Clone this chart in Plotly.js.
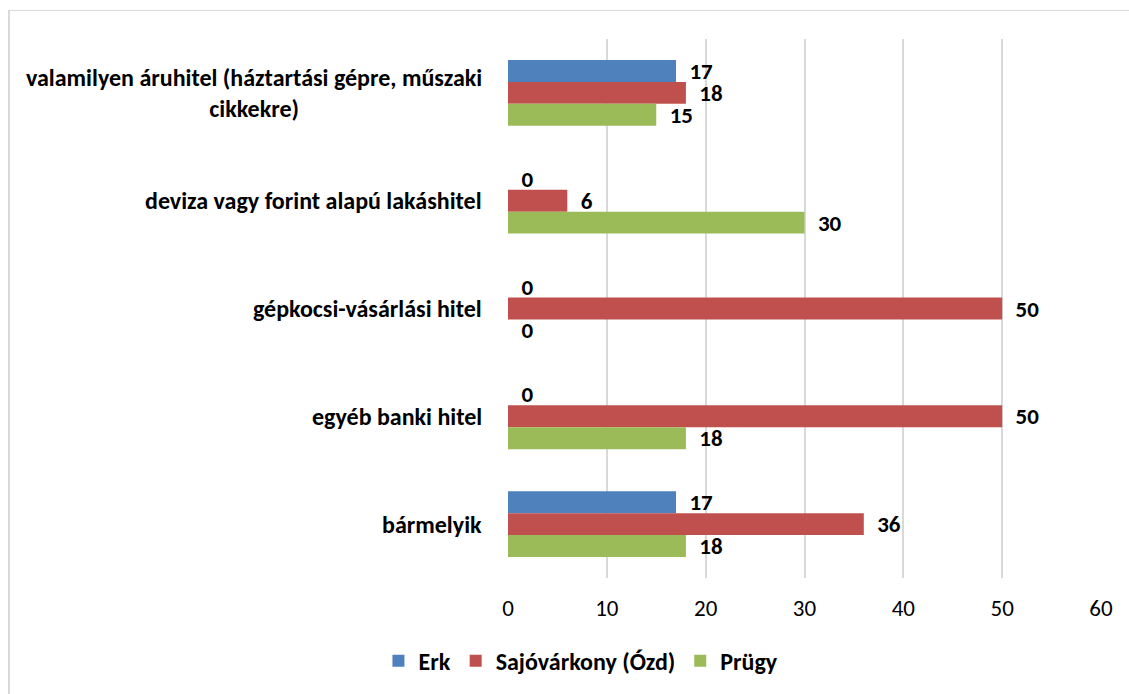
<!DOCTYPE html>
<html>
<head>
<meta charset="utf-8">
<script src="https://cdn.plot.ly/plotly-3.0.1.min.js"></script>
<style>
  html, body { margin: 0; padding: 0; background: #fff; }
  #wrap { position: relative; width: 1129px; height: 694px; }
  #chart { width: 1129px; height: 694px; }
  #frame { position: absolute; left: 8px; top: 10px; width: 1121px; height: 684px;
           border-left: 2px solid #d9d9d9; border-top: 1px solid #d9d9d9;
           box-sizing: border-box; pointer-events: none; }
</style>
</head>
<body>
<div id="wrap">
  <div id="chart"></div>
  <div id="frame"></div>
</div>
<script>
const categories = [
  "valamilyen áruhitel (háztartási gépre, műszaki<br>cikkekre)",
  "deviza vagy forint alapú lakáshitel",
  "gépkocsi-vásárlási hitel",
  "egyéb banki hitel",
  "bármelyik"
];
const seriesNames = ["Erk", "Sajóvárkony (Ózd)", "Prügy"];
const erk = [17, 0, 0, 0, 17];
const sajovarkony = [18, 6, 50, 50, 36];
const prugy = [15, 30, 0, 18, 18];
const xTicks = [0, 10, 20, 30, 40, 50, 60];

const colors = ["#4F81BD", "#C0504D", "#9BBB59"];
const FONT = "Carlito, Lato, 'Liberation Sans', sans-serif";
const pad = "\u00a0\u00a0";

const values = [erk, sajovarkony, prugy];
const traces = values.map((v, i) => ({
  type: "bar",
  orientation: "h",
  name: seriesNames[i],
  y: categories,
  x: v,
  marker: { color: colors[i] },
  text: v.map(String),
  texttemplate: pad + "%{x}",
  textposition: "outside",
  constraintext: "none",
  cliponaxis: false,
  textfont: { family: FONT, size: 23, color: "#000", weight: "bold" },
  hoverinfo: "x+name"
}));

const annotations = categories.map(c => ({
  xref: "paper", yref: "y",
  x: 0, y: c,
  xanchor: "right", yanchor: "middle",
  xshift: -24,
  align: "center",
  showarrow: false,
  text: c,
  font: { family: FONT, size: 24, color: "#000", weight: "bold" }
}));

const layout = {
  width: 1129, height: 694,
  margin: { l: 508, r: 28, t: 39, b: 115, pad: 0 },
  paper_bgcolor: "#fff",
  plot_bgcolor: "#fff",
  barmode: "group",
  bargap: 0.39,
  bargroupgap: 0,
  showlegend: true,
  legend: {
    orientation: "h",
    x: 0.123, xanchor: "center",
    y: -0.152, yanchor: "middle",
    font: { family: FONT, size: 24, color: "#000", weight: "bold" },
    traceorder: "normal"
  },
  xaxis: {
    range: [0, 60],
    tickvals: xTicks,
    ticktext: xTicks.map(String),
    showgrid: true,
    gridcolor: "#d9d9d9",
    gridwidth: 2,
    zeroline: false,
    showline: false,
    ticks: "",
    ticklabelstandoff: 14,
    tickfont: { family: FONT, size: 23, color: "#000" },
    fixedrange: true
  },
  yaxis: {
    type: "category",
    autorange: "reversed",
    showticklabels: false,
    showgrid: false,
    zeroline: false,
    showline: false,
    ticks: "",
    fixedrange: true
  },
  annotations: annotations
};

Plotly.newPlot("chart", traces, layout, { displayModeBar: false, staticPlot: true });
</script>
</body>
</html>
